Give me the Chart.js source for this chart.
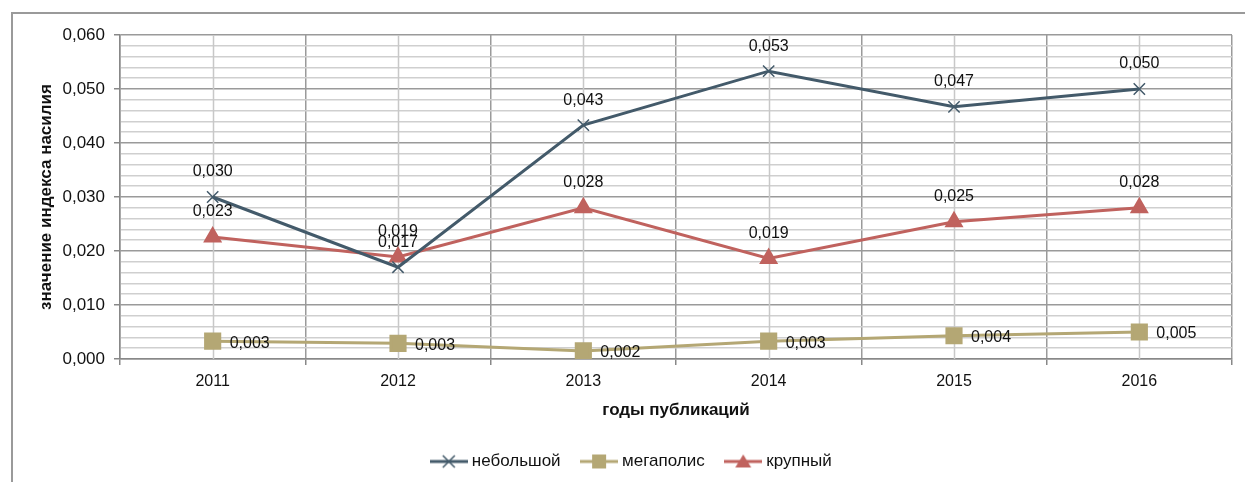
<!DOCTYPE html>
<html lang="ru">
<head>
<meta charset="UTF-8">
<title>Индекс насилия</title>
<script src="https://cdn.jsdelivr.net/npm/chart.js"></script>
<style>
    html, body { margin: 0; padding: 0; background: #fff; }
    .frame { position: absolute; left: 11px; top: 12px; width: 1240px; height: 480px;
             border-top: 2px solid #9a9a9a; border-left: 2px solid #9a9a9a; }
    .wrap { position: absolute; left: 0; top: 0; width: 1245px; height: 482px; }
</style>
</head>
<body>
<div class="frame"></div>
<div class="wrap"><canvas id="chart" width="1245" height="482"></canvas></div>
<script>
    const years = ['2011', '2012', '2013', '2014', '2015', '2016'];
    const small = [0.030, 0.017, 0.0433, 0.0533, 0.0467, 0.050];
    const megapolis = [0.0033, 0.0029, 0.0015, 0.0033, 0.0043, 0.0050];
    const large = [0.0226, 0.0189, 0.0280, 0.0186, 0.0254, 0.0280];

    const FONT = '"Liberation Sans", Arial, Helvetica, sans-serif';

    function fmt(v) {
        return v.toFixed(3).replace('.', ',');
    }

    // small canvas with line + marker for the legend
    function legendIcon(color, marker) {
        const c = document.createElement('canvas');
        c.width = 38; c.height = 18;
        const g = c.getContext('2d');
        g.strokeStyle = color; g.fillStyle = color; g.lineWidth = 3;
        g.beginPath(); g.moveTo(0, 9); g.lineTo(38, 9); g.stroke();
        if (marker === 'x') {
            g.lineWidth = 1.5;
            g.beginPath();
            g.moveTo(13, 3); g.lineTo(25, 15);
            g.moveTo(25, 3); g.lineTo(13, 15);
            g.stroke();
        } else if (marker === 'rect') {
            g.fillRect(12, 2, 14, 14);
        } else {
            g.beginPath(); g.moveTo(19, 2); g.lineTo(27, 15); g.lineTo(11, 15); g.closePath(); g.fill();
        }
        return c;
    }

    const labelPlugin = {
        id: 'valueLabels',
        afterDatasetsDraw(chart) {
            const ctx = chart.ctx;
            ctx.save();
            ctx.font = '16px ' + FONT;
            ctx.fillStyle = '#111';
            chart.data.datasets.forEach((ds, i) => {
                const meta = chart.getDatasetMeta(i);
                meta.data.forEach((pt, j) => {
                    const txt = fmt(ds.data[j]);
                    if (ds.labelPos === 'right') {
                        ctx.textAlign = 'left'; ctx.textBaseline = 'middle';
                        ctx.fillText(txt, pt.x + 17, pt.y + 2);
                    } else {
                        ctx.textAlign = 'center'; ctx.textBaseline = 'middle';
                        ctx.fillText(txt, pt.x, pt.y - 25);
                    }
                });
            });
            ctx.restore();
        }
    };

    // light vertical lines at category centres
    const centreLines = {
        id: 'centreLines',
        beforeDatasetsDraw(chart) {
            const x = chart.scales.x, area = chart.chartArea, ctx = chart.ctx;
            ctx.save();
            ctx.strokeStyle = '#c8c8c8'; ctx.lineWidth = 1.5;
            years.forEach((_, i) => {
                const px = Math.round(x.getPixelForValue(i)) + 0.5;
                ctx.beginPath(); ctx.moveTo(px, area.top); ctx.lineTo(px, area.bottom); ctx.stroke();
            });
            ctx.restore();
        }
    };

    const colors = { small: '#435a6a', mega: '#b4a774', large: '#c0625e' };

    new Chart(document.getElementById('chart'), {
        type: 'line',
        data: {
            labels: years,
            datasets: [
                { label: 'небольшой', data: small, borderColor: colors.small, backgroundColor: colors.small,
                  borderWidth: 3, pointStyle: 'crossRot', pointRadius: 8, pointBorderWidth: 1.5,
                  icon: legendIcon(colors.small, 'x') },
                { label: 'мегаполис', data: megapolis, borderColor: colors.mega, backgroundColor: colors.mega,
                  borderWidth: 3, pointStyle: 'rect', pointRadius: 10, labelPos: 'right',
                  icon: legendIcon(colors.mega, 'rect') },
                { label: 'крупный', data: large, borderColor: colors.large, backgroundColor: colors.large,
                  borderWidth: 3, pointStyle: 'triangle', pointRadius: 8,
                  icon: legendIcon(colors.large, 'tri') }
            ]
        },
        options: {
            responsive: false,
            animation: false,
            layout: { padding: { left: 30, right: 9, top: 35, bottom: 2 } },
            plugins: {
                tooltip: { enabled: false },
                legend: {
                    position: 'bottom',
                    labels: {
                        usePointStyle: true,
                        pointStyleWidth: 29,
                        color: '#111',
                        font: { family: FONT, size: 17 },
                        padding: 24,
                        generateLabels(chart) {
                            return chart.data.datasets.map((ds, i) => ({
                                text: ds.label, pointStyle: ds.icon, datasetIndex: i,
                                fillStyle: ds.borderColor, strokeStyle: ds.borderColor, lineWidth: 0,
                                fontColor: '#111'
                            }));
                        }
                    }
                }
            },
            scales: {
                x: {
                    offset: true,
                    afterFit(s) { s.height = 70; },
                    grid: { offset: true, color: '#9a9a9a', lineWidth: 1.5, tickLength: 6, tickColor: '#888' },
                    border: { color: '#888', width: 1.5 },
                    ticks: { color: '#111', font: { family: FONT, size: 16 }, padding: 7 },
                    title: { display: true, text: 'годы публикаций', color: '#111',
                             font: { family: FONT, size: 17, weight: 'bold' }, padding: { top: 4, bottom: 8 } }
                },
                y: {
                    min: 0, max: 0.06,
                    afterFit(s) { s.width = 90; },
                    ticks: {
                        stepSize: 0.002, color: '#111', font: { family: FONT, size: 17 }, padding: 9,
                        autoSkip: false,
                        callback(v) {
                            const k = Math.round(v * 1000);
                            return k % 10 === 0 ? fmt(v) : '';
                        }
                    },
                    grid: {
                        tickLength: 6,
                        lineWidth: 1.5,
                        color(c) { return Math.round(c.tick.value * 1000) % 10 === 0 ? '#9a9a9a' : '#cfcfcf'; },
                        tickColor(c) { return Math.round(c.tick.value * 1000) % 10 === 0 ? '#888' : 'rgba(0,0,0,0)'; }
                    },
                    border: { color: '#888', width: 1.5 },
                    title: { display: true, text: 'значение индекса насилия', color: '#111',
                             font: { family: FONT, size: 17, weight: 'bold' }, padding: { top: 6, bottom: 4 } }
                }
            }
        },
        plugins: [centreLines, labelPlugin]
    });
</script>
</body>
</html>
